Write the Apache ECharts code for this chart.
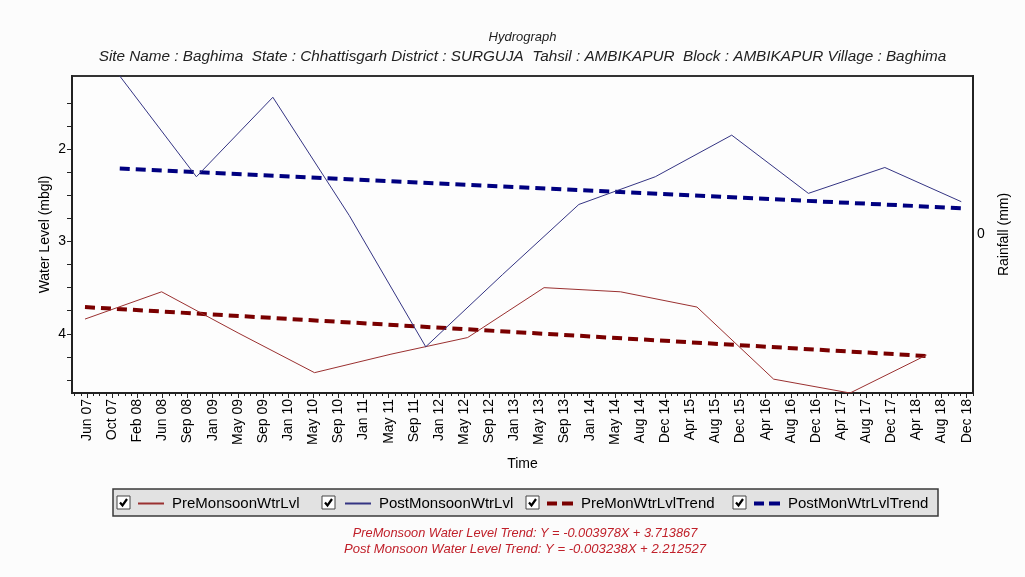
<!DOCTYPE html>
<html><head><meta charset="utf-8">
<script src="https://cdn.jsdelivr.net/npm/echarts@6/dist/echarts.min.js"></script>
<style>html,body{margin:0;padding:0;background:#fcfcfc}#c{width:1025px;height:577px}</style>
</head><body><div id="c"></div>
<script>
// ---- data ----
const tickLabels = ['Jun 07','Oct 07','Feb 08','Jun 08','Sep 08','Jan 09','May 09','Sep 09','Jan 10','May 10','Sep 10','Jan 11','May 11','Sep 11','Jan 12','May 12','Sep 12','Jan 13','May 13','Sep 13','Jan 14','May 14','Aug 14','Dec 14','Apr 15','Aug 15','Dec 15','Apr 16','Aug 16','Dec 16','Apr 17','Aug 17','Dec 17','Apr 18','Aug 18','Dec 18'];
const preDates = ['2007-05-28','2008-05-28','2009-05-28','2010-05-28','2011-05-28','2012-05-28','2013-05-28','2014-05-28','2015-05-28','2016-05-28','2017-05-28','2018-05-28'];
const preLevels = [3.84, 3.545, 3.99, 4.42, 4.22, 4.04, 3.50, 3.545, 3.71, 4.49, 4.64, 4.23];
const postDates = ['2007-11-10','2008-11-10','2009-11-10','2010-11-10','2011-11-10','2012-11-10','2013-11-10','2014-11-10','2015-11-10','2016-11-10','2017-11-10','2018-11-10'];
const postLevels = [1.21, 2.30, 1.44, 2.72, 4.14, 3.36, 2.60, 2.30, 1.85, 2.48, 2.20, 2.57];
const preTrendDates = ['2007-05-28','2018-05-28'];
const preTrendLevels = [3.71, 4.24];
const postTrendDates = ['2007-11-10','2018-11-10'];
const postTrendLevels = [2.21, 2.64];
const yLabelValues = [2, 3, 4];
const yTickValues = [1.5, 1.75, 2, 2.25, 2.5, 2.75, 3, 3.25, 3.5, 3.75, 4, 4.25, 4.5];
const rainLabelValues = [0];
const seriesNames = ['PreMonsoonWtrLvl','PostMonsoonWtrLvl','PreMonWtrLvlTrend','PostMonWtrLvlTrend'];
const titleText = 'Hydrograph';
const subTitleText = 'Site Name : Baghima  State : Chhattisgarh District : SURGUJA  Tahsil : AMBIKAPUR  Block : AMBIKAPUR Village : Baghima';
const trendTexts = ['PreMonsoon Water Level Trend: Y = -0.003978X + 3.713867', 'Post Monsoon Water Level Trend: Y = -0.003238X + 2.212527'];

// ---- helpers ----
const ORIGIN = Date.UTC(2007, 5, 7);
const STEP = 120; // days between labelled ticks
function dayNum(s){ const p = s.split('-').map(Number); return (Date.UTC(p[0], p[1]-1, p[2]) - ORIGIN) / 86400000; }
function pairs(d, v){ return d.map((s, i) => [dayNum(s), v[i]]); }
const majorTicks = tickLabels.map((_, i) => i * STEP);
const minorTicks = [];
for (let v = -60; v <= 4230; v += 30) { if (v % STEP !== 0) minorTicks.push(v); }

const FONT = '"Liberation Sans", Arial, sans-serif';
const C_PRE = '#9a3030', C_POST = '#343483', C_PRET = '#7a0000', C_POSTT = '#000080';
const ICON_SOLID = 'path://M0,0h26v2h-26z';
const ICON_DASH = 'path://M0,0h10v4h-10zM15,0h11v4h-11z';

const chart = echarts.init(document.getElementById('c'), null, {renderer: 'canvas'});
const legendLeft = [138, 345, 547, 754];
const legendIcons = [ICON_SOLID, ICON_SOLID, ICON_DASH, ICON_DASH];
const legendIconH = [2, 2, 4, 4];
const checkX = [117, 322, 526, 733];

const graphics = [
  {type:'rect', z:1, shape:{x:113, y:489, width:825, height:27}, style:{fill:'#e2e2e2', stroke:'#3a3a3a', lineWidth:1.5}},
  {type:'text', z:10, style:{text:titleText, x:522.5, y:37, textAlign:'center', textVerticalAlign:'middle', font:'italic 13px ' + FONT, fill:'#222'}},
  {type:'text', z:10, style:{text:subTitleText, x:522.5, y:57, textAlign:'center', textVerticalAlign:'middle', font:'italic 15.3px ' + FONT, fill:'#222'}},
  {type:'text', z:10, style:{text:trendTexts[0], x:525, y:533, textAlign:'center', textVerticalAlign:'middle', font:'italic 12.8px ' + FONT, fill:'#c0202a'}},
  {type:'text', z:10, style:{text:trendTexts[1], x:525, y:549, textAlign:'center', textVerticalAlign:'middle', font:'italic 13.1px ' + FONT, fill:'#c0202a'}}
];
checkX.forEach(x => {
  graphics.push({type:'rect', z:10, shape:{x:x, y:496, width:13, height:13}, style:{fill:'#fff', stroke:'#444', lineWidth:1}});
  graphics.push({type:'polyline', z:11, shape:{points:[[x+3, 502.5],[x+5.5, 505.5],[x+10, 499]]}, style:{stroke:'#000', lineWidth:2.2, fill:null}});
});

const option = {
  animation: false,
  backgroundColor: '#fcfcfc',
  textStyle: {fontFamily: FONT},
  grid: {left:72, right:52, top:76, bottom:184, show:true, borderColor:'#333', borderWidth:2, backgroundColor:'#fdfdfd'},
  legend: seriesNames.map((n, i) => ({
    data:[{name:n, icon:legendIcons[i]}], left: legendLeft[i], top: 496, padding: 0,
    itemWidth: 26, itemHeight: legendIconH[i],
    selectedMode: false, z: 5,
    textStyle: {fontSize: 15, color: '#000', fontFamily: FONT, padding: [0, 0, 0, 3]}
  })),
  xAxis: [{
    type:'value', min:-72, max:4230,
    name:'Time', nameLocation:'middle', nameGap:64,
    nameTextStyle:{fontSize:14, color:'#000', fontFamily:FONT},
    axisLine:{show:true, onZero:false, lineStyle:{color:'#222', width:2}},
    axisTick:{show:true, length:5, customValues: majorTicks, lineStyle:{color:'#222'}},
    axisLabel:{customValues: majorTicks, rotate:90, margin:6, fontSize:14, color:'#000', fontFamily:FONT,
      formatter: v => tickLabels[Math.round(v / STEP)] || ''},
    splitLine:{show:false}
  },{
    type:'value', min:-72, max:4230, position:'bottom',
    axisLine:{show:false, onZero:false},
    axisTick:{show:true, length:3, customValues: minorTicks, lineStyle:{color:'#222'}},
    axisLabel:{show:false}, splitLine:{show:false}
  }],
  yAxis: [{
    type:'value', inverse:true, min:'dataMin', max:'dataMax',
    name:'Water Level (mbgl)', nameLocation:'middle', nameGap:20, nameRotate:90, nameMoveOverlap:false,
    nameTextStyle:{fontSize:14, color:'#000', fontFamily:FONT},
    axisLine:{show:true, onZero:false, lineStyle:{color:'#222', width:2}},
    axisTick:{show:true, length:5, customValues: yTickValues, lineStyle:{color:'#222'}},
    axisLabel:{customValues: yLabelValues, fontSize:14, color:'#000', margin:6, fontFamily:FONT},
    splitLine:{show:false}
  },{
    type:'value', position:'right', min:-1, max:1,
    name:'Rainfall (mm)', nameLocation:'middle', nameGap:24, nameRotate:90,
    nameTextStyle:{fontSize:14, color:'#000', fontFamily:FONT},
    axisLine:{show:true, onZero:false, lineStyle:{color:'#222', width:2}},
    axisTick:{show:false},
    axisLabel:{customValues: rainLabelValues, fontSize:14, color:'#000', margin:4, fontFamily:FONT},
    splitLine:{show:false}
  }],
  graphic: graphics,
  series: [
    {name:seriesNames[0], type:'line', data:pairs(preDates, preLevels), symbol:'none', lineStyle:{color:C_PRE, width:1}, itemStyle:{color:C_PRE}, z:3},
    {name:seriesNames[1], type:'line', data:pairs(postDates, postLevels), symbol:'none', lineStyle:{color:C_POST, width:1}, itemStyle:{color:C_POST}, z:3},
    {name:seriesNames[2], type:'line', data:pairs(preTrendDates, preTrendLevels), symbol:'none', lineStyle:{color:C_PRET, width:4, type:[10,6], cap:'butt'}, itemStyle:{color:C_PRET}, z:2},
    {name:seriesNames[3], type:'line', data:pairs(postTrendDates, postTrendLevels), symbol:'none', lineStyle:{color:C_POSTT, width:4, type:[10,6], cap:'butt'}, itemStyle:{color:C_POSTT}, z:2}
  ]
};
chart.setOption(option);
</script>
</body></html>
